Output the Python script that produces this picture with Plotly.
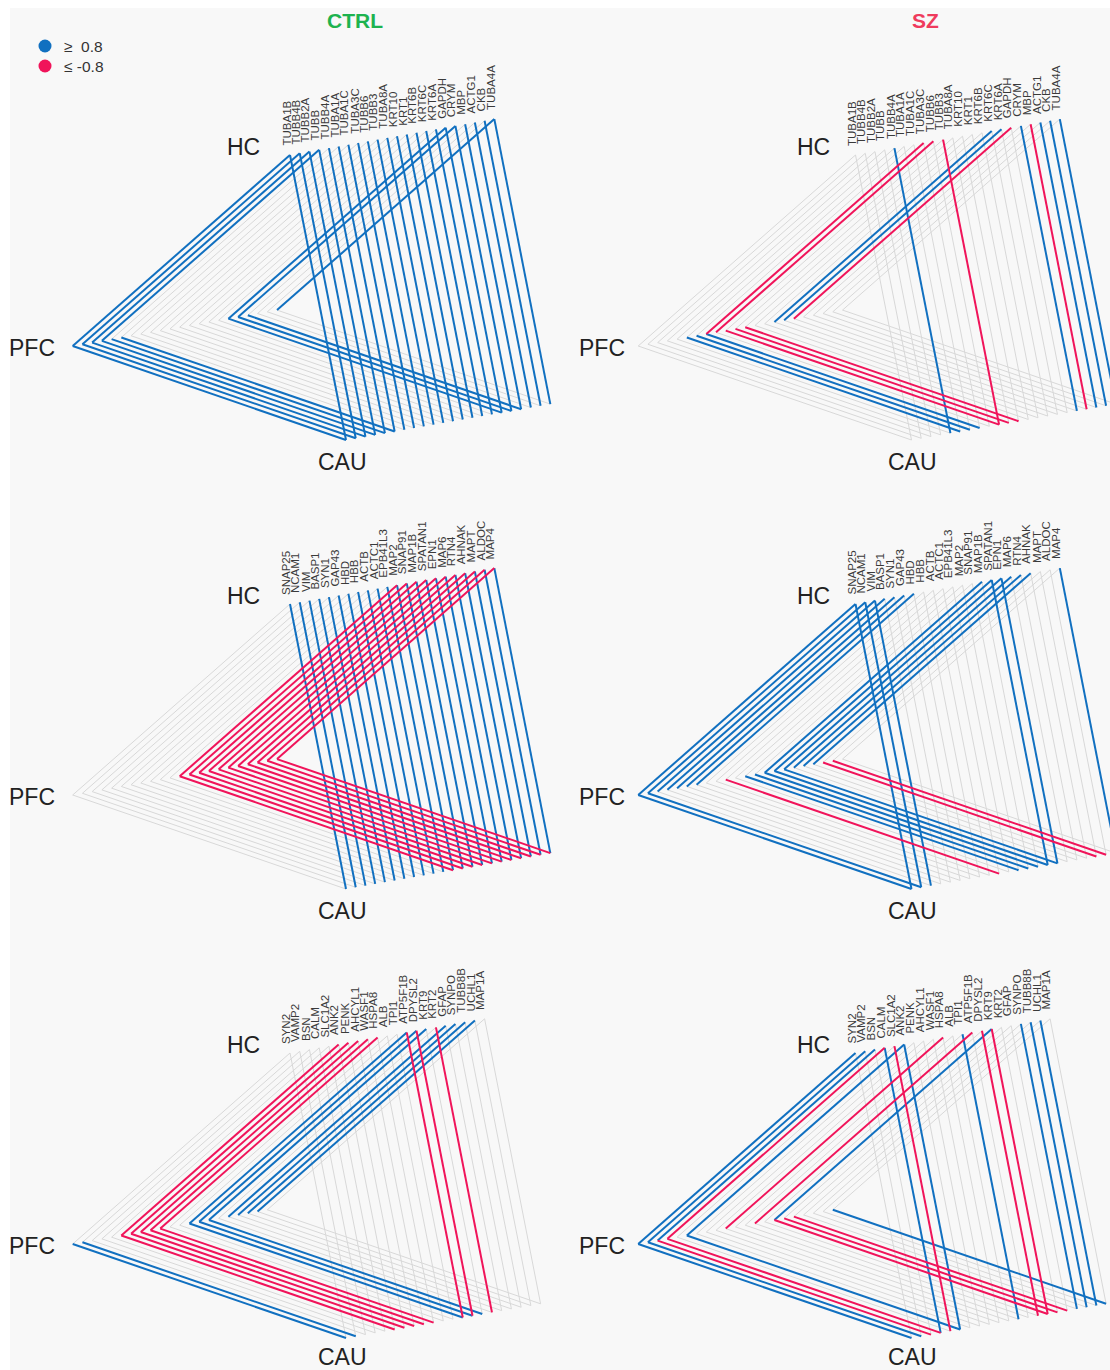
import plotly.graph_objects as go

# ---- colours -------------------------------------------------------------
BLUE = "#1170c0"
RED = "#f0145a"
GREY = "#d8d8d8"
BG = "#f8f8f8"

# ---- gene lists (one per row of panels) ---------------------------------
genes_row1 = ["TUBA1B", "TUBB4B", "TUBB2A", "TUBB", "TUBB4A", "TUBA1A", "TUBA1C",
              "TUBA3C", "TUBB6", "TUBB3", "TUBA8A", "KRT10", "KRT1", "KRT6B", "KRT6C",
              "KRT6A", "GAPDH", "CRYM", "MBP", "ACTG1", "CKB", "TUBA4A"]
genes_row2 = ["SNAP25", "NCAM1", "VIM", "BASP1", "SYN1", "GAP43", "HBD", "HBB", "ACTB",
              "ACTC1", "EPB41L3", "MAP2", "SNAP91", "MAP1B", "SPATAN1", "EPN1", "MAP6",
              "RTN4", "AHNAK", "MAPT", "ALDOC", "MAP4"]
genes_row3 = ["SYN2", "VAMP2", "BSN", "CALM", "SLC1A2", "ANK2", "PENK", "AHCYL1", "WASF1",
              "HSPA8", "ALB", "TPI1", "ATP5F1B", "DPYSL2", "KRT9", "KRT2", "GFAP", "SYNPO",
              "TUBB8B", "UCHL1", "MAP1A"]

# ---- correlation class per edge: 1 -> r >= 0.8, -1 -> r <= -0.8, 0 -> otherwise
# CTRL, row 1
ctrl1_hc_pfc  = [1, 1, 1, 1, 0, 0, 0, 0, 0, 0, 0, 0, 0, 0, 0, 0, 1, 1, 0, 0, 0, 1]
ctrl1_pfc_cau = [1, 1, 1, 1, 1, 1, 0, 0, 0, 0, 0, 0, 0, 0, 0, 0, 1, 1, 1, 0, 0, 0]
ctrl1_hc_cau  = [1] * 22
# SZ, row 1
sz1_hc_pfc  = [0, 0, 0, 0, 0, 0, 0, -1, -1, 0, 0, 0, 0, 0, 1, 1, -1, 0, 0, 0, 0, 0]
sz1_pfc_cau = [0, 0, 0, 0, 0, 1, 1, 1, 0, -1, -1, -1, 0, 0, 0, 0, 0, 0, 0, 0, 0, 0]
sz1_hc_cau  = [0, 0, 0, 0, 1, 0, 0, 0, 0, -1, 0, 0, 0, 0, 0, 0, 0, 1, -1, 1, 1, 1]
# CTRL, row 2
ctrl2_hc_pfc  = [0] * 11 + [-1] * 11
ctrl2_pfc_cau = [0] * 11 + [-1] * 11
ctrl2_hc_cau  = [1] * 22
# SZ, row 2
sz2_hc_pfc  = [1, 1, 1, 1, 1, 1, 1, 0, 0, 0, 0, 0, 0, 1, 1, 1, 1, 1, 1, 0, 0, 0]
sz2_pfc_cau = [1, 1, 0, 0, 0, 0, 0, 0, 0, -1, 0, 1, 1, 1, 1, 1, 0, 0, 0, -1, -1, 0]
sz2_hc_cau  = [1, 1, 1, 0, 0, 0, 0, 0, 0, 0, 0, 0, 0, 0, 1, 1, 0, 0, 0, 0, 0, 1]
# CTRL, row 3
ctrl3_hc_pfc  = [0, 0, 0, 0, 0, -1, -1, -1, -1, -1, 0, 0, 1, 1, 1, 0, 1, 1, 1, 1, 0]
ctrl3_pfc_cau = [1, 1, 0, 0, 0, -1, -1, -1, -1, -1, 0, 0, 1, 1, 1, 0, 0, 0, 0, 0, 0]
ctrl3_hc_cau  = [0, 0, 0, 0, 0, 0, 0, 0, 0, 0, 0, 0, -1, -1, 0, -1, 0, 0, 0, 0, 0]
# SZ, row 3
sz3_hc_pfc  = [1, 1, 1, -1, 0, 1, 0, 0, 0, -1, 0, 0, -1, 0, 1, 0, 0, 0, 0, 0, 0]
sz3_pfc_cau = [1, 1, -1, -1, 0, 1, 0, 0, 0, 0, 0, 0, 0, 0, -1, -1, -1, 0, 0, 0, 1]
sz3_hc_cau  = [0, 0, 0, 1, -1, 1, 0, 0, 0, 0, 0, 1, 0, -1, -1, 0, 0, 1, 1, 1, 0]

panels = [
    dict(col=0, row=0, genes=genes_row1, e=(ctrl1_hc_pfc, ctrl1_pfc_cau, ctrl1_hc_cau)),
    dict(col=1, row=0, genes=genes_row1, e=(sz1_hc_pfc, sz1_pfc_cau, sz1_hc_cau)),
    dict(col=0, row=1, genes=genes_row2, e=(ctrl2_hc_pfc, ctrl2_pfc_cau, ctrl2_hc_cau)),
    dict(col=1, row=1, genes=genes_row2, e=(sz2_hc_pfc, sz2_pfc_cau, sz2_hc_cau)),
    dict(col=0, row=2, genes=genes_row3, e=(ctrl3_hc_pfc, ctrl3_pfc_cau, ctrl3_hc_cau)),
    dict(col=1, row=2, genes=genes_row3, e=(sz3_hc_pfc, sz3_pfc_cau, sz3_hc_cau)),
]

# ---- layout geometry (page pixel space) ---------------------------------
W, H = 1110, 1370
HC0 = (290.0, 155.0)
PFC0 = (72.7, 346.0)
CAU0 = (346.0, 440.0)
STEP = (9.73, -1.71)      # offset between consecutive gene triangles
COL_DX = 565.5            # horizontal distance between CTRL and SZ panels
LABEL_COL_DX = 570.0      # region names sit slightly further right in the SZ column
ROW_DY = 449.0
FONT = "Liberation Sans, Arial, sans-serif"


def vertex(base, i, col, row):
    return (base[0] + i * STEP[0] + col * COL_DX,
            base[1] + i * STEP[1] + row * ROW_DY)


segs = {0: ([], []), 1: ([], []), -1: ([], [])}
annotations = []

for p in panels:
    col, row = p["col"], p["row"]
    hc_pfc, pfc_cau, hc_cau = p["e"]
    for i, g in enumerate(p["genes"]):
        hc = vertex(HC0, i, col, row)
        pfc = vertex(PFC0, i, col, row)
        cau = vertex(CAU0, i, col, row)
        for (a, b), cls in (((hc, pfc), hc_pfc[i]), ((pfc, cau), pfc_cau[i]),
                            ((hc, cau), hc_cau[i])):
            xs, ys = segs[cls]
            xs += [a[0], b[0], None]
            ys += [a[1], b[1], None]
        annotations.append(dict(
            x=hc[0] - 4, y=hc[1] - 8, text=g, textangle=-90, showarrow=False,
            xanchor="center", yanchor="bottom", borderpad=0,
            font=dict(family=FONT, size=11.5, color="#3a3a3a")))
    # region labels
    ox, oy = col * LABEL_COL_DX, row * ROW_DY
    cau_y = min(462 + oy, 1357)
    for txt, x, y in (("HC", 243.5 + ox, 147 + oy), ("PFC", 32 + ox, 348 + oy),
                      ("CAU", 342 + ox, cau_y)):
        annotations.append(dict(
            x=x, y=y, text=txt, showarrow=False, xanchor="center", yanchor="middle",
            borderpad=0, font=dict(family=FONT, size=23, color="#222222")))

fig = go.Figure()
for cls, color, width in ((0, GREY, 1), (1, BLUE, 2), (-1, RED, 2)):
    xs, ys = segs[cls]
    fig.add_trace(go.Scatter(x=xs, y=ys, mode="lines", hoverinfo="skip",
                             line=dict(color=color, width=width), showlegend=False))

# legend markers
fig.add_trace(go.Scatter(x=[45, 45], y=[46, 66], mode="markers", hoverinfo="skip",
                         marker=dict(size=13, color=[BLUE, RED]), showlegend=False))
annotations += [
    dict(x=62, y=46, text="\u2265  0.8", showarrow=False, xanchor="left", yanchor="middle",
         font=dict(family=FONT, size=15.5, color="#333333")),
    dict(x=62, y=66, text="\u2264 -0.8", showarrow=False, xanchor="left", yanchor="middle",
         font=dict(family=FONT, size=15.5, color="#333333")),
    dict(x=355, y=20, text="<b>CTRL</b>", showarrow=False, xanchor="center", yanchor="middle",
         font=dict(family=FONT, size=21, color="#1db34f")),
    dict(x=925, y=20, text="<b>SZ</b>", showarrow=False, xanchor="center", yanchor="middle",
         font=dict(family=FONT, size=21, color="#ef3b5d")),
]

fig.update_layout(
    width=W, height=H, margin=dict(l=0, r=0, t=0, b=0),
    paper_bgcolor="white", plot_bgcolor="white",
    xaxis=dict(range=[0, W], visible=False, fixedrange=True),
    yaxis=dict(range=[H, 0], visible=False, fixedrange=True),
    annotations=annotations,
    shapes=[dict(type="rect", xref="x", yref="y", x0=10, y0=8, x1=W, y1=H,
                 fillcolor=BG, line=dict(width=0), layer="below")],
)

fig.write_html("out.html")
